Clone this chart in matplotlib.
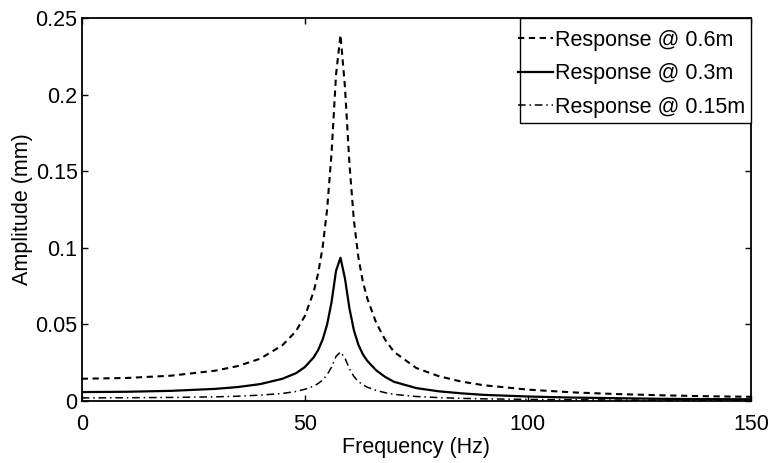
import matplotlib
matplotlib.use("Agg")
import matplotlib.pyplot as plt
from matplotlib.patches import Rectangle

# values
freq = [0, 10, 20, 30, 35, 40, 45, 48, 50, 52, 53, 54, 55, 56, 57, 58, 59, 60,
        61, 62, 63, 64, 66, 68, 70, 75, 80, 85, 90, 100, 110, 120, 130, 140, 150]

amp_06 = [0.0145, 0.0150, 0.0165, 0.0198, 0.0228, 0.0276, 0.0364, 0.0455, 0.0554,
          0.0714, 0.0834, 0.1005, 0.125, 0.162, 0.213, 0.239, 0.205, 0.155,
          0.118, 0.094, 0.078, 0.067, 0.051, 0.040, 0.032, 0.0215, 0.0162, 0.0127,
          0.0103, 0.0074, 0.0056, 0.0045, 0.0037, 0.0031, 0.0027]

amp_03 = [0.0058, 0.0060, 0.0066, 0.0079, 0.0091, 0.0110, 0.0145, 0.0181, 0.0221,
          0.0285, 0.0333, 0.0401, 0.0499, 0.0646, 0.0850, 0.0935, 0.0800, 0.0605,
          0.0462, 0.0368, 0.0305, 0.0262, 0.0200, 0.0157, 0.0125, 0.0084, 0.0063, 0.0050,
          0.0040, 0.0029, 0.0022, 0.0018, 0.0014, 0.0012, 0.0011]

amp_015 = [0.0020, 0.0021, 0.0023, 0.0027, 0.0031, 0.0038, 0.0049, 0.0062, 0.0076,
           0.0097, 0.0114, 0.0137, 0.0171, 0.0221, 0.0291, 0.0320, 0.0280, 0.0210,
           0.0160, 0.0127, 0.0105, 0.0090, 0.0069, 0.0054, 0.0043, 0.0029, 0.0022, 0.0017,
           0.0014, 0.0010, 0.0008, 0.0006, 0.0005, 0.0004, 0.0004]

labels = ["Response @ 0.6m", "Response @ 0.3m", "Response @ 0.15m"]
xticks = [0, 50, 100, 150]
yticks = [0, 0.05, 0.1, 0.15, 0.2, 0.25]
yticklabels = ["0", "0.05", "0.1", "0.15", "0.2", "0.25"]

plt.rcParams["font.family"] = ["Liberation Sans", "DejaVu Sans"]
plt.rcParams["font.size"] = 15.5

fig = plt.figure(figsize=(7.71, 4.63), dpi=100)
ax = fig.add_axes([0.106, 0.134, 0.868, 0.827])

ax.plot(freq, amp_06, color="black", lw=1.5, dashes=(3, 2.2), label=labels[0])
ax.plot(freq, amp_03, color="black", lw=1.6, ls="-", label=labels[1])
ax.plot(freq, amp_015, color="black", lw=1.1, dashes=(5, 2.5, 1, 2.5), label=labels[2])

ax.set_xlim(0, 150)
ax.set_ylim(0, 0.25)
ax.set_xticks(xticks)
ax.set_yticks(yticks)
ax.set_yticklabels(yticklabels)
ax.tick_params(direction="in", length=4, width=1, top=True, right=True, labelsize=15.5)
ax.tick_params(axis="x", pad=9.5)
ax.tick_params(axis="y", pad=3)
for s in ax.spines.values():
    s.set_linewidth(1.3)

ax.set_xlabel("Frequency (Hz)", fontsize=15.5, labelpad=1)
ax.set_ylabel("Amplitude (mm)", fontsize=15.5, labelpad=2)

# legend box drawn by hand: tall rows but a tight left/right margin, like matlab
box = Rectangle((0.655, 0.726), 0.345, 0.274, transform=ax.transAxes,
                facecolor="white", edgecolor="black", lw=1.0, zorder=4, clip_on=False)
ax.add_patch(box)
leg = ax.legend(loc="upper right", bbox_to_anchor=(1.009, 1.0), borderaxespad=0,
                frameon=False, handlelength=1.6, handletextpad=0.1,
                labelspacing=0.58, borderpad=0.55, fontsize=15.5)
leg.set_zorder(5)

fig.savefig("out.png", dpi=100)
